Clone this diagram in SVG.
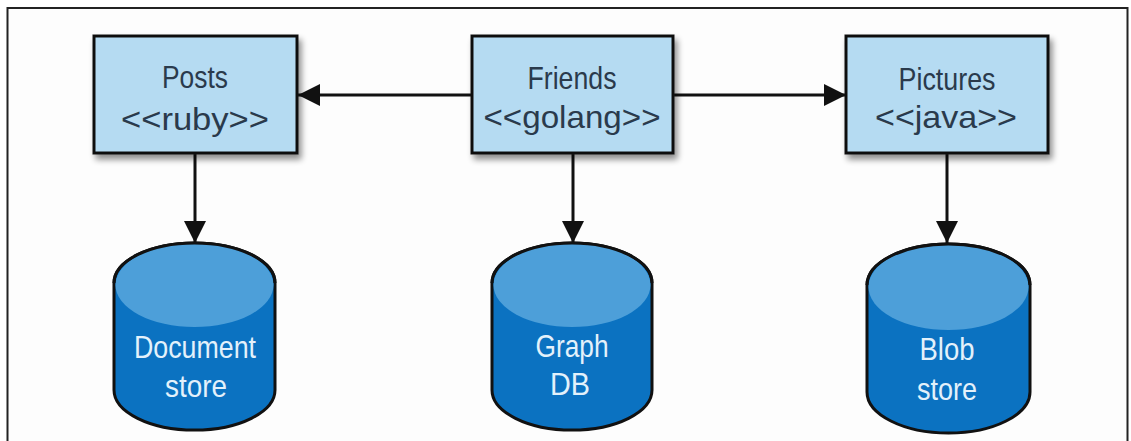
<svg xmlns="http://www.w3.org/2000/svg" width="1131" height="441" viewBox="0 0 1131 441">
<defs>
<style>
.box{fill:#b5dbf2;stroke:#111;stroke-width:3}
.bt{font-family:"Liberation Sans Narrow","Liberation Sans",sans-serif;font-size:32px;fill:#2a3a4c;text-anchor:middle}
.ct{font-family:"Liberation Sans Narrow","Liberation Sans",sans-serif;font-size:32px;fill:#e3f1fb;text-anchor:middle}
.body{fill:#0b72c1;stroke:#111;stroke-width:3}
.top{fill:#4d9fd9}
.edge{stroke:#111;stroke-width:3;fill:none}
</style>
<filter id="sh" x="-10%" y="-10%" width="130%" height="140%">
<feGaussianBlur in="SourceAlpha" stdDeviation="3"/>
<feOffset dx="3" dy="5"/>
<feComponentTransfer><feFuncA type="linear" slope="0.45"/></feComponentTransfer>
<feMerge><feMergeNode/><feMergeNode in="SourceGraphic"/></feMerge>
</filter>
<marker id="ahb" markerWidth="22" markerHeight="22" refX="22" refY="11" orient="auto" markerUnits="userSpaceOnUse" viewBox="0 0 22 22">
<path d="M0,0 L22,11 L0,22 Z" fill="#111"/>
</marker>
</defs>
<rect x="0" y="0" width="1131" height="441" fill="#fff"/>
<rect x="7.5" y="8" width="1120" height="445" fill="#fdfdfd" stroke="#222" stroke-width="2"/>

<g id="connectors">
<line class="edge" x1="472" y1="95" x2="298" y2="95" marker-end="url(#ahb)"/>
<line class="edge" x1="673" y1="95" x2="846" y2="95" marker-end="url(#ahb)"/>
<line class="edge" x1="195" y1="153" x2="195" y2="243" marker-end="url(#ahb)"/>
<line class="edge" x1="573" y1="153" x2="573" y2="243" marker-end="url(#ahb)"/>
<line class="edge" x1="947" y1="153" x2="947" y2="243" marker-end="url(#ahb)"/>
</g>

<g id="posts">
<rect class="box" x="94" y="36" width="203" height="117" filter="url(#sh)"/>
<text class="bt" x="195" y="88" textLength="66" lengthAdjust="spacingAndGlyphs">Posts</text>
<text class="bt" x="195" y="130" textLength="148" lengthAdjust="spacingAndGlyphs">&lt;&lt;ruby&gt;&gt;</text>
</g>

<g id="friends">
<rect class="box" x="472" y="36" width="201" height="117" filter="url(#sh)"/>
<text class="bt" x="572" y="89" textLength="89" lengthAdjust="spacingAndGlyphs">Friends</text>
<text class="bt" x="572" y="128" textLength="177" lengthAdjust="spacingAndGlyphs">&lt;&lt;golang&gt;&gt;</text>
</g>

<g id="pictures">
<rect class="box" x="846" y="36" width="202" height="117" filter="url(#sh)"/>
<text class="bt" x="947" y="90" textLength="97" lengthAdjust="spacingAndGlyphs">Pictures</text>
<text class="bt" x="946" y="128" textLength="142" lengthAdjust="spacingAndGlyphs">&lt;&lt;java&gt;&gt;</text>
</g>

<g id="docstore">
<path class="body" d="M114,283 A80.5,40 0 0 1 275,283 L275,390 A80.5,40 0 0 1 114,390 Z"/>
<ellipse class="top" cx="194.5" cy="285" rx="79" ry="42"/>
<path d="M114,283 A80.5,40 0 0 1 275,283" fill="none" stroke="#111" stroke-width="3"/>
<text class="ct" x="195" y="358" textLength="122" lengthAdjust="spacingAndGlyphs">Document</text>
<text class="ct" x="196" y="397" textLength="62" lengthAdjust="spacingAndGlyphs">store</text>
</g>

<g id="graphdb">
<path class="body" d="M492,283 A80,40 0 0 1 652,283 L652,390 A80,40 0 0 1 492,390 Z"/>
<ellipse class="top" cx="572" cy="285" rx="78.5" ry="42"/>
<path d="M492,283 A80,40 0 0 1 652,283" fill="none" stroke="#111" stroke-width="3"/>
<text class="ct" x="572" y="357" textLength="73" lengthAdjust="spacingAndGlyphs">Graph</text>
<text class="ct" x="570" y="395" textLength="40" lengthAdjust="spacingAndGlyphs">DB</text>
</g>

<g id="blobstore">
<path class="body" d="M867,285 A81.5,41 0 0 1 1030,285 L1030,392 A81.5,41 0 0 1 867,392 Z"/>
<ellipse class="top" cx="948.5" cy="287" rx="80" ry="43"/>
<path d="M867,285 A81.5,41 0 0 1 1030,285" fill="none" stroke="#111" stroke-width="3"/>
<text class="ct" x="947" y="360" textLength="55" lengthAdjust="spacingAndGlyphs">Blob</text>
<text class="ct" x="947" y="400" textLength="60" lengthAdjust="spacingAndGlyphs">store</text>
</g>
</svg>
